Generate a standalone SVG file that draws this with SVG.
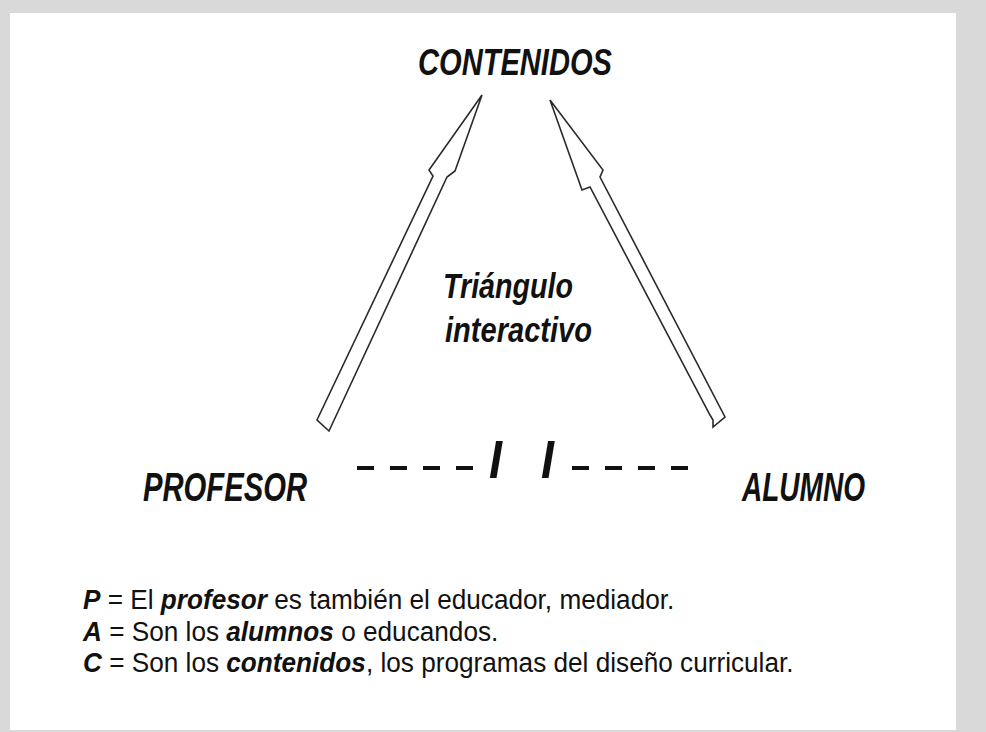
<svg xmlns="http://www.w3.org/2000/svg" width="986" height="732" viewBox="0 0 986 732">
  <defs>
    <style>
      .bi { font-family: "Liberation Sans", Arial, sans-serif; font-weight: bold; font-style: italic; fill: #111; }
      .rg { font-family: "Liberation Sans", Arial, sans-serif; fill: #111; font-size: 28px; }
      .arrow { fill: #fff; stroke: #2a2a2a; stroke-width: 1.6; stroke-linejoin: miter; }
      .dash { stroke: #111; stroke-width: 4; stroke-dasharray: 17 16; }
    </style>
  </defs>
  <rect x="0" y="0" width="986" height="732" fill="#d9d9d9"/>
  <rect x="10" y="13" width="946" height="717" fill="#ffffff"/>

  <g id="connectors">
    <polygon class="arrow" points="482,95 455,171 447,177 329,431 317,420 433,176 429,170"/>
    <polygon class="arrow" points="550,100 603,170 600,177 725,417 713,427 713,420 710,415 590,187 582,190"/>
    <line class="dash" x1="357" y1="468" x2="474" y2="468"/>
    <line class="dash" x1="572" y1="468" x2="689" y2="468"/>
  </g>

  <g id="contenidos">
    <text class="bi" x="418" y="75" font-size="37" textLength="194" lengthAdjust="spacingAndGlyphs">CONTENIDOS</text>
  </g>
  <g id="triangulo">
    <text class="bi" x="443" y="298" font-size="35" textLength="130" lengthAdjust="spacingAndGlyphs">Triángulo</text>
    <text class="bi" x="445" y="342" font-size="35" textLength="147" lengthAdjust="spacingAndGlyphs">interactivo</text>
  </g>
  <g id="profesor">
    <text class="bi" x="143" y="501" font-size="40" textLength="164" lengthAdjust="spacingAndGlyphs">PROFESOR</text>
  </g>
  <g id="alumno">
    <text class="bi" x="742" y="501" font-size="40" textLength="123" lengthAdjust="spacingAndGlyphs">ALUMNO</text>
  </g>
  <g id="separator">
    <text class="bi" x="489" y="478" font-size="53" textLength="13" lengthAdjust="spacingAndGlyphs">I</text>
    <text class="bi" x="541" y="478" font-size="53" textLength="13" lengthAdjust="spacingAndGlyphs">I</text>
  </g>

  <g id="legend" transform="translate(83,0) scale(0.935,1)">
    <text class="rg" x="0" y="609"><tspan class="bi">P</tspan> = El <tspan class="bi">profesor</tspan> es también el educador, mediador.</text>
    <text class="rg" x="0" y="641"><tspan class="bi">A</tspan> = Son los <tspan class="bi">alumnos</tspan> o educandos.</text>
    <text class="rg" x="0" y="672"><tspan class="bi">C</tspan> = Son los <tspan class="bi">contenidos</tspan>, los programas del diseño curricular.</text>
  </g>
</svg>
